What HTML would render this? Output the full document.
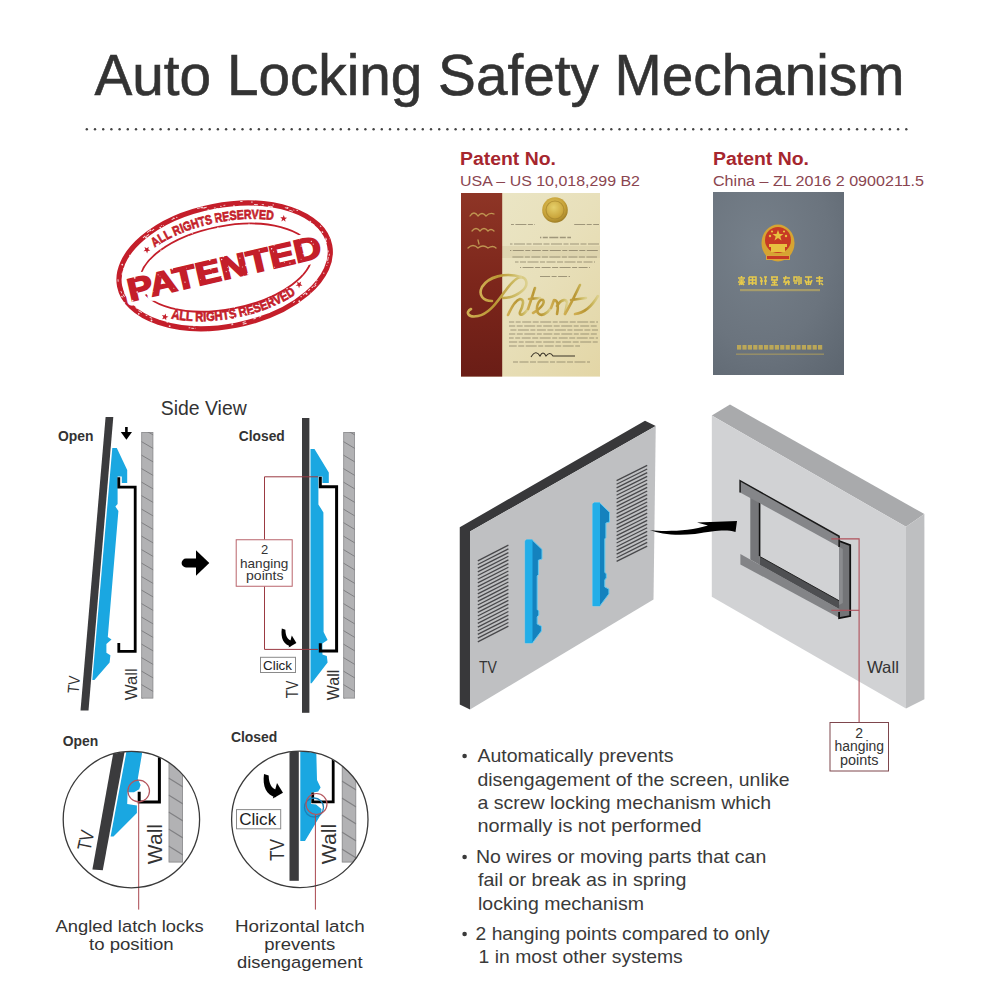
<!DOCTYPE html>
<html><head><meta charset="utf-8"><style>
html,body{margin:0;padding:0;background:#fff;}
svg{display:block;}
text{font-family:"Liberation Sans",sans-serif;}
</style></head><body>
<svg width="1000" height="1000" viewBox="0 0 1000 1000">
<defs>
  <pattern id="hatch" patternUnits="userSpaceOnUse" width="12" height="11" patternTransform="translate(0,0)">
    <path d="M-2,-1 L14,10" stroke="#7b7b7d" stroke-width="1.3"/>
  </pattern>
  <clipPath id="c1"><circle cx="131.4" cy="819.6" r="68"/></clipPath>
  <clipPath id="c2"><circle cx="299.8" cy="819.4" r="68"/></clipPath>
</defs>
<rect width="1000" height="1000" fill="#fff"/>

<!-- TITLE -->
<text x="94.5" y="94.5" font-size="58" fill="#333" stroke="#333" stroke-width="0.6" textLength="810" lengthAdjust="spacingAndGlyphs">Auto Locking Safety Mechanism</text>
<g id="dots" fill="#444"><circle cx="86.8" cy="129.3" r="1.2"/><circle cx="95.0" cy="129.3" r="1.2"/><circle cx="103.2" cy="129.3" r="1.2"/><circle cx="111.4" cy="129.3" r="1.2"/><circle cx="119.6" cy="129.3" r="1.2"/><circle cx="127.8" cy="129.3" r="1.2"/><circle cx="136.0" cy="129.3" r="1.2"/><circle cx="144.2" cy="129.3" r="1.2"/><circle cx="152.4" cy="129.3" r="1.2"/><circle cx="160.6" cy="129.3" r="1.2"/><circle cx="168.8" cy="129.3" r="1.2"/><circle cx="176.9" cy="129.3" r="1.2"/><circle cx="185.1" cy="129.3" r="1.2"/><circle cx="193.3" cy="129.3" r="1.2"/><circle cx="201.5" cy="129.3" r="1.2"/><circle cx="209.7" cy="129.3" r="1.2"/><circle cx="217.9" cy="129.3" r="1.2"/><circle cx="226.1" cy="129.3" r="1.2"/><circle cx="234.3" cy="129.3" r="1.2"/><circle cx="242.5" cy="129.3" r="1.2"/><circle cx="250.7" cy="129.3" r="1.2"/><circle cx="258.9" cy="129.3" r="1.2"/><circle cx="267.1" cy="129.3" r="1.2"/><circle cx="275.3" cy="129.3" r="1.2"/><circle cx="283.5" cy="129.3" r="1.2"/><circle cx="291.7" cy="129.3" r="1.2"/><circle cx="299.9" cy="129.3" r="1.2"/><circle cx="308.1" cy="129.3" r="1.2"/><circle cx="316.3" cy="129.3" r="1.2"/><circle cx="324.5" cy="129.3" r="1.2"/><circle cx="332.7" cy="129.3" r="1.2"/><circle cx="340.8" cy="129.3" r="1.2"/><circle cx="349.0" cy="129.3" r="1.2"/><circle cx="357.2" cy="129.3" r="1.2"/><circle cx="365.4" cy="129.3" r="1.2"/><circle cx="373.6" cy="129.3" r="1.2"/><circle cx="381.8" cy="129.3" r="1.2"/><circle cx="390.0" cy="129.3" r="1.2"/><circle cx="398.2" cy="129.3" r="1.2"/><circle cx="406.4" cy="129.3" r="1.2"/><circle cx="414.6" cy="129.3" r="1.2"/><circle cx="422.8" cy="129.3" r="1.2"/><circle cx="431.0" cy="129.3" r="1.2"/><circle cx="439.2" cy="129.3" r="1.2"/><circle cx="447.4" cy="129.3" r="1.2"/><circle cx="455.6" cy="129.3" r="1.2"/><circle cx="463.8" cy="129.3" r="1.2"/><circle cx="472.0" cy="129.3" r="1.2"/><circle cx="480.2" cy="129.3" r="1.2"/><circle cx="488.4" cy="129.3" r="1.2"/><circle cx="496.6" cy="129.3" r="1.2"/><circle cx="504.7" cy="129.3" r="1.2"/><circle cx="512.9" cy="129.3" r="1.2"/><circle cx="521.1" cy="129.3" r="1.2"/><circle cx="529.3" cy="129.3" r="1.2"/><circle cx="537.5" cy="129.3" r="1.2"/><circle cx="545.7" cy="129.3" r="1.2"/><circle cx="553.9" cy="129.3" r="1.2"/><circle cx="562.1" cy="129.3" r="1.2"/><circle cx="570.3" cy="129.3" r="1.2"/><circle cx="578.5" cy="129.3" r="1.2"/><circle cx="586.7" cy="129.3" r="1.2"/><circle cx="594.9" cy="129.3" r="1.2"/><circle cx="603.1" cy="129.3" r="1.2"/><circle cx="611.3" cy="129.3" r="1.2"/><circle cx="619.5" cy="129.3" r="1.2"/><circle cx="627.7" cy="129.3" r="1.2"/><circle cx="635.9" cy="129.3" r="1.2"/><circle cx="644.1" cy="129.3" r="1.2"/><circle cx="652.3" cy="129.3" r="1.2"/><circle cx="660.4" cy="129.3" r="1.2"/><circle cx="668.6" cy="129.3" r="1.2"/><circle cx="676.8" cy="129.3" r="1.2"/><circle cx="685.0" cy="129.3" r="1.2"/><circle cx="693.2" cy="129.3" r="1.2"/><circle cx="701.4" cy="129.3" r="1.2"/><circle cx="709.6" cy="129.3" r="1.2"/><circle cx="717.8" cy="129.3" r="1.2"/><circle cx="726.0" cy="129.3" r="1.2"/><circle cx="734.2" cy="129.3" r="1.2"/><circle cx="742.4" cy="129.3" r="1.2"/><circle cx="750.6" cy="129.3" r="1.2"/><circle cx="758.8" cy="129.3" r="1.2"/><circle cx="767.0" cy="129.3" r="1.2"/><circle cx="775.2" cy="129.3" r="1.2"/><circle cx="783.4" cy="129.3" r="1.2"/><circle cx="791.6" cy="129.3" r="1.2"/><circle cx="799.8" cy="129.3" r="1.2"/><circle cx="808.0" cy="129.3" r="1.2"/><circle cx="816.2" cy="129.3" r="1.2"/><circle cx="824.4" cy="129.3" r="1.2"/><circle cx="832.5" cy="129.3" r="1.2"/><circle cx="840.7" cy="129.3" r="1.2"/><circle cx="848.9" cy="129.3" r="1.2"/><circle cx="857.1" cy="129.3" r="1.2"/><circle cx="865.3" cy="129.3" r="1.2"/><circle cx="873.5" cy="129.3" r="1.2"/><circle cx="881.7" cy="129.3" r="1.2"/><circle cx="889.9" cy="129.3" r="1.2"/><circle cx="898.1" cy="129.3" r="1.2"/><circle cx="906.3" cy="129.3" r="1.2"/></g>

<!-- SECTIONS -->
<g id="stamp" transform="translate(226,267.6) rotate(-11)" fill="#c41e2a">
  <ellipse cx="-1" cy="-2" rx="107" ry="60.5" fill="none" stroke="#c41e2a" stroke-width="5.2"/>
  <path id="arcTop" d="M -96,0 A 96 46 0 0 1 96,0" fill="none"/>
  <path id="arcBot" d="M -100,0 A 100 51 0 0 0 100,0" fill="none"/>
  <ellipse cx="0" cy="0" rx="87" ry="41.5" fill="none" stroke="#c41e2a" stroke-width="1.8"/>
  <text font-size="13" font-weight="bold" stroke="#c41e2a" stroke-width="0.7"><textPath href="#arcTop" startOffset="47.5%" text-anchor="middle" textLength="124" lengthAdjust="spacingAndGlyphs">ALL RIGHTS RESERVED</textPath></text>
  <text font-size="13" font-weight="bold" stroke="#c41e2a" stroke-width="0.7"><textPath href="#arcBot" startOffset="50%" text-anchor="middle" textLength="130" lengthAdjust="spacingAndGlyphs">ALL RIGHTS RESERVED</textPath></text>
  <g transform="rotate(-2)">
  <text x="-2" y="11.5" font-size="32" font-weight="bold" text-anchor="middle" textLength="198" lengthAdjust="spacingAndGlyphs" fill="#fff" stroke="#fff" stroke-width="9" stroke-linejoin="round">PATENTED</text>
  <text x="-2" y="11.5" font-size="32" font-weight="bold" text-anchor="middle" textLength="198" lengthAdjust="spacingAndGlyphs" stroke="#c41e2a" stroke-width="1.6">PATENTED</text>
  </g>
  <g><polygon points="-76.1,-35.7 -74.1,-34.1 -71.9,-35.3 -72.8,-32.9 -71.0,-31.1 -73.5,-31.3 -74.7,-29.0 -75.3,-31.5 -77.8,-31.9 -75.7,-33.2"/><polygon points="66.8,-40.6 67.1,-38.0 69.5,-37.3 67.2,-36.3 67.2,-33.7 65.5,-35.7 63.1,-34.8 64.4,-37.0 62.9,-39.1 65.4,-38.5"/><polygon points="-67.9,33.5 -68.1,36.1 -65.8,37.2 -68.3,37.8 -68.7,40.3 -70.0,38.2 -72.5,38.5 -70.9,36.6 -72.0,34.3 -69.7,35.3"/><polygon points="67.0,27.3 68.8,29.1 71.1,28.1 70.0,30.4 71.6,32.3 69.1,32.0 67.8,34.1 67.4,31.6 64.9,31.0 67.2,29.9"/></g>
  <g fill="#fff" opacity="0.85"><circle cx="-19.5" cy="22.2" r="0.77"/><circle cx="73.6" cy="20.6" r="0.59"/><circle cx="74.5" cy="16.2" r="0.37"/><circle cx="-27.1" cy="6.8" r="0.41"/><circle cx="-90.6" cy="26.6" r="0.43"/><circle cx="14.8" cy="50.0" r="0.97"/><circle cx="-62.4" cy="-18.8" r="0.98"/><circle cx="99.4" cy="17.1" r="0.54"/><circle cx="23.7" cy="17.3" r="0.55"/><circle cx="19.2" cy="-24.9" r="0.73"/><circle cx="-43.9" cy="-29.9" r="0.71"/><circle cx="25.2" cy="6.0" r="0.48"/><circle cx="-31.0" cy="-37.9" r="0.55"/><circle cx="-64.8" cy="-22.1" r="0.54"/><circle cx="25.8" cy="-51.4" r="0.51"/><circle cx="-72.5" cy="-20.9" r="0.92"/><circle cx="-7.7" cy="-34.1" r="0.99"/><circle cx="53.4" cy="28.0" r="0.84"/><circle cx="45.2" cy="36.5" r="0.38"/><circle cx="-48.1" cy="-48.7" r="0.72"/><circle cx="44.5" cy="-25.3" r="0.80"/><circle cx="-70.7" cy="-27.2" r="0.65"/><circle cx="58.3" cy="-52.5" r="0.66"/><circle cx="-14.2" cy="-13.5" r="0.81"/><circle cx="-67.2" cy="-50.9" r="0.88"/><circle cx="-15.0" cy="38.8" r="0.78"/><circle cx="75.3" cy="6.1" r="0.46"/><circle cx="20.2" cy="10.4" r="0.85"/><circle cx="38.3" cy="23.1" r="0.60"/><circle cx="22.0" cy="-13.1" r="0.64"/><circle cx="-100.2" cy="-18.4" r="0.88"/><circle cx="38.8" cy="-25.5" r="0.62"/><circle cx="-66.5" cy="46.7" r="0.97"/><circle cx="27.4" cy="21.8" r="0.50"/><circle cx="8.2" cy="44.3" r="0.73"/><circle cx="-0.6" cy="4.1" r="0.62"/><circle cx="-57.4" cy="35.3" r="0.97"/><circle cx="-29.4" cy="-42.8" r="0.75"/><circle cx="-11.6" cy="-13.3" r="0.93"/><circle cx="19.6" cy="-58.8" r="0.87"/><circle cx="-55.2" cy="25.3" r="0.42"/><circle cx="-18.6" cy="-11.9" r="0.39"/><circle cx="11.6" cy="24.9" r="0.57"/><circle cx="1.6" cy="0.3" r="0.45"/><circle cx="54.3" cy="23.0" r="0.37"/><circle cx="61.8" cy="-35.6" r="0.45"/><circle cx="-0.9" cy="37.7" r="0.59"/><circle cx="74.0" cy="41.1" r="1.00"/><circle cx="-76.1" cy="9.4" r="0.41"/><circle cx="52.5" cy="22.4" r="0.52"/><circle cx="21.4" cy="-22.6" r="0.37"/><circle cx="77.6" cy="-14.1" r="0.45"/><circle cx="-17.7" cy="-2.8" r="0.69"/><circle cx="103.1" cy="-8.0" r="0.80"/><circle cx="-4.7" cy="38.7" r="0.46"/><circle cx="11.2" cy="-46.3" r="0.86"/><circle cx="-25.4" cy="26.5" r="0.88"/><circle cx="103.0" cy="-5.6" r="0.87"/><circle cx="40.1" cy="-50.1" r="0.50"/><circle cx="-66.4" cy="-4.2" r="0.37"/><circle cx="58.3" cy="5.9" r="0.52"/><circle cx="-38.7" cy="-58.6" r="0.64"/><circle cx="102.7" cy="-24.5" r="0.97"/><circle cx="-34.7" cy="22.6" r="0.50"/><circle cx="16.6" cy="27.3" r="0.76"/><circle cx="83.2" cy="-34.4" r="0.66"/><circle cx="-57.3" cy="-46.9" r="0.41"/><circle cx="-56.9" cy="-51.7" r="0.86"/><circle cx="0.1" cy="-44.2" r="0.47"/><circle cx="15.7" cy="-35.8" r="0.87"/><circle cx="69.4" cy="-7.1" r="0.61"/><circle cx="90.1" cy="-17.9" r="0.46"/><circle cx="30.4" cy="17.8" r="0.94"/><circle cx="14.9" cy="-22.9" r="0.89"/><circle cx="90.1" cy="-6.4" r="0.58"/><circle cx="-38.7" cy="-7.0" r="0.36"/><circle cx="88.8" cy="-9.4" r="0.69"/><circle cx="67.4" cy="-17.1" r="0.92"/><circle cx="23.7" cy="-26.1" r="0.51"/><circle cx="-14.6" cy="30.3" r="0.73"/><circle cx="-4.3" cy="41.4" r="0.44"/><circle cx="56.3" cy="-20.4" r="0.65"/><circle cx="-92.2" cy="-30.4" r="0.62"/><circle cx="69.0" cy="-22.4" r="0.70"/><circle cx="-15.2" cy="-1.3" r="0.64"/><circle cx="2.9" cy="3.7" r="0.87"/><circle cx="36.1" cy="38.9" r="0.82"/><circle cx="-60.0" cy="-12.7" r="0.69"/><circle cx="-93.2" cy="-19.3" r="0.42"/><circle cx="-51.9" cy="-11.8" r="0.53"/><circle cx="11.1" cy="-45.2" r="0.72"/><circle cx="6.7" cy="-61.0" r="0.64"/><circle cx="-60.5" cy="-29.6" r="0.68"/><circle cx="-26.5" cy="-40.3" r="0.70"/><circle cx="-107.6" cy="8.5" r="0.80"/><circle cx="77.6" cy="-43.5" r="0.52"/><circle cx="-101.3" cy="-22.7" r="0.90"/><circle cx="25.4" cy="16.9" r="0.64"/><circle cx="49.3" cy="13.8" r="0.40"/><circle cx="-48.1" cy="-49.6" r="0.93"/><circle cx="53.5" cy="44.7" r="0.78"/><circle cx="65.5" cy="47.0" r="0.98"/><circle cx="20.8" cy="61.3" r="0.61"/><circle cx="-111.1" cy="5.1" r="0.89"/><circle cx="38.8" cy="35.7" r="0.69"/><circle cx="-26.3" cy="24.0" r="0.56"/><circle cx="-2.7" cy="-8.8" r="0.71"/><circle cx="-14.0" cy="3.1" r="0.57"/><circle cx="-57.1" cy="-32.2" r="0.39"/><circle cx="99.0" cy="-5.3" r="0.98"/><circle cx="45.7" cy="20.2" r="0.38"/><circle cx="10.6" cy="-32.7" r="0.43"/><circle cx="-94.4" cy="28.7" r="0.88"/><circle cx="-2.3" cy="24.7" r="0.95"/><circle cx="-84.7" cy="-23.0" r="0.41"/><circle cx="86.9" cy="18.8" r="0.63"/><circle cx="97.5" cy="27.2" r="0.76"/><circle cx="10.3" cy="-17.6" r="0.91"/><circle cx="95.0" cy="24.2" r="0.64"/><circle cx="-44.3" cy="40.3" r="0.95"/><circle cx="-4.5" cy="22.9" r="0.69"/><circle cx="2.7" cy="21.1" r="0.45"/><circle cx="47.8" cy="8.9" r="0.55"/><circle cx="-33.1" cy="52.5" r="0.54"/><circle cx="-47.2" cy="-0.0" r="0.58"/><circle cx="55.7" cy="3.6" r="0.36"/><circle cx="-8.8" cy="-47.2" r="0.47"/><circle cx="-106.9" cy="9.8" r="0.42"/><circle cx="30.9" cy="-38.2" r="0.67"/><circle cx="35.6" cy="-34.6" r="0.68"/><circle cx="-42.3" cy="-58.6" r="0.57"/><circle cx="46.5" cy="-46.8" r="0.76"/><circle cx="-54.5" cy="21.3" r="0.39"/><circle cx="20.4" cy="12.4" r="0.83"/><circle cx="-1.6" cy="25.8" r="0.40"/><circle cx="56.7" cy="-50.2" r="0.79"/><circle cx="-11.0" cy="30.9" r="0.54"/><circle cx="-43.0" cy="6.4" r="0.64"/><circle cx="-9.1" cy="62.5" r="0.98"/><circle cx="-53.0" cy="-9.2" r="0.98"/><circle cx="-24.4" cy="35.6" r="0.35"/><circle cx="-56.8" cy="29.9" r="0.68"/><circle cx="24.1" cy="43.3" r="0.35"/><circle cx="-3.0" cy="19.1" r="0.61"/><circle cx="16.2" cy="2.5" r="0.55"/><circle cx="9.2" cy="48.7" r="0.69"/><circle cx="0.3" cy="-51.9" r="0.82"/><circle cx="50.7" cy="-27.5" r="0.56"/><circle cx="43.1" cy="-2.4" r="0.82"/><circle cx="-14.6" cy="-10.5" r="0.89"/><circle cx="69.0" cy="-31.8" r="0.83"/><circle cx="15.9" cy="-22.1" r="0.69"/><circle cx="-102.3" cy="-1.6" r="0.87"/><circle cx="39.5" cy="-43.4" r="0.93"/><circle cx="-38.2" cy="-48.6" r="0.50"/><circle cx="40.1" cy="4.5" r="0.58"/><circle cx="80.9" cy="35.8" r="0.71"/><circle cx="-61.6" cy="-36.4" r="0.79"/><circle cx="-6.4" cy="0.2" r="0.87"/><circle cx="-0.9" cy="-45.4" r="0.70"/><circle cx="-15.5" cy="-13.8" r="0.83"/><circle cx="-0.4" cy="17.5" r="0.52"/><circle cx="-6.6" cy="-28.7" r="0.83"/><circle cx="77.8" cy="-6.8" r="0.60"/><circle cx="-91.8" cy="7.0" r="0.85"/><circle cx="-66.6" cy="-34.4" r="0.40"/><circle cx="33.9" cy="25.8" r="0.83"/><circle cx="-28.3" cy="45.4" r="0.36"/><circle cx="53.9" cy="12.3" r="0.79"/><circle cx="-32.7" cy="-49.2" r="0.54"/><circle cx="-75.9" cy="-4.5" r="0.65"/><circle cx="77.9" cy="41.0" r="0.48"/><circle cx="107.3" cy="-8.5" r="0.36"/><circle cx="-98.1" cy="14.8" r="0.98"/><circle cx="-55.1" cy="10.4" r="0.49"/><circle cx="48.4" cy="-9.8" r="0.73"/><circle cx="51.0" cy="36.0" r="0.97"/><circle cx="68.2" cy="42.9" r="0.68"/><circle cx="71.2" cy="-35.0" r="0.50"/><circle cx="62.5" cy="-26.7" r="0.37"/><circle cx="78.5" cy="1.0" r="0.64"/><circle cx="-13.5" cy="22.7" r="0.57"/><circle cx="-41.4" cy="53.7" r="0.35"/><circle cx="0.5" cy="-58.6" r="0.43"/><circle cx="84.6" cy="-24.1" r="0.94"/><circle cx="-16.9" cy="37.8" r="0.61"/><circle cx="86.0" cy="-0.4" r="0.58"/><circle cx="-52.8" cy="14.7" r="0.38"/><circle cx="82.1" cy="34.9" r="0.54"/><circle cx="51.4" cy="-12.6" r="0.52"/><circle cx="-48.7" cy="-1.9" r="0.59"/><circle cx="101.4" cy="-16.4" r="0.88"/><circle cx="-72.8" cy="-44.8" r="0.96"/><circle cx="-90.5" cy="-16.5" r="0.38"/><circle cx="-8.3" cy="-42.7" r="0.84"/><circle cx="-36.9" cy="-27.0" r="0.38"/><circle cx="35.8" cy="-10.1" r="0.66"/><circle cx="-33.9" cy="29.0" r="0.83"/><circle cx="56.5" cy="-4.8" r="0.78"/><circle cx="-26.3" cy="45.4" r="0.61"/><circle cx="22.4" cy="22.3" r="0.49"/><circle cx="65.6" cy="-25.1" r="0.49"/><circle cx="93.0" cy="-35.5" r="0.64"/><circle cx="31.4" cy="21.6" r="0.41"/><circle cx="-18.5" cy="16.2" r="0.51"/><circle cx="-4.4" cy="48.2" r="0.93"/><circle cx="-0.2" cy="-41.1" r="0.62"/><circle cx="-68.0" cy="-5.9" r="0.57"/><circle cx="54.6" cy="12.8" r="0.98"/><circle cx="55.9" cy="32.3" r="0.76"/><circle cx="33.9" cy="-22.6" r="0.53"/><circle cx="0.7" cy="40.5" r="0.64"/><circle cx="98.9" cy="-16.8" r="0.92"/><circle cx="19.9" cy="1.6" r="0.81"/><circle cx="61.1" cy="-26.8" r="0.73"/><circle cx="70.1" cy="0.0" r="0.95"/><circle cx="47.4" cy="-52.6" r="0.98"/><circle cx="0.4" cy="21.1" r="0.45"/><circle cx="-91.6" cy="-7.4" r="0.96"/><circle cx="-15.9" cy="-50.7" r="0.85"/><circle cx="-80.2" cy="12.6" r="0.38"/><circle cx="10.9" cy="-30.2" r="0.95"/><circle cx="-37.7" cy="-27.9" r="0.43"/><circle cx="-1.0" cy="51.0" r="0.80"/><circle cx="22.6" cy="11.0" r="0.69"/><circle cx="-60.5" cy="-19.8" r="0.50"/><circle cx="-9.2" cy="-3.9" r="0.55"/><circle cx="-106.3" cy="15.3" r="0.77"/><circle cx="57.5" cy="-29.4" r="0.50"/><circle cx="2.0" cy="62.7" r="0.81"/><circle cx="-5.8" cy="8.8" r="0.67"/><circle cx="-33.2" cy="-36.9" r="0.52"/><circle cx="-53.5" cy="-53.4" r="0.50"/><circle cx="63.6" cy="7.9" r="0.62"/><circle cx="-20.5" cy="-26.0" r="0.87"/><circle cx="-5.4" cy="-45.4" r="0.48"/><circle cx="61.4" cy="-6.7" r="0.88"/><circle cx="6.3" cy="29.9" r="0.84"/><circle cx="-30.4" cy="60.0" r="0.67"/><circle cx="20.3" cy="27.9" r="0.62"/><circle cx="-55.4" cy="-53.7" r="0.45"/><circle cx="-40.5" cy="18.3" r="0.98"/><circle cx="16.0" cy="11.3" r="0.39"/><circle cx="-83.2" cy="37.7" r="0.92"/><circle cx="-12.1" cy="-63.5" r="0.96"/><circle cx="-23.0" cy="24.2" r="0.96"/><circle cx="-0.5" cy="-11.4" r="0.78"/><circle cx="-49.5" cy="27.0" r="0.57"/><circle cx="2.9" cy="3.0" r="0.53"/><circle cx="-65.2" cy="50.3" r="0.43"/><circle cx="49.7" cy="-6.5" r="0.58"/><circle cx="44.1" cy="-52.3" r="0.63"/><circle cx="73.4" cy="13.4" r="0.59"/><circle cx="43.0" cy="-13.6" r="0.59"/><circle cx="15.5" cy="-6.7" r="0.62"/><circle cx="37.1" cy="-51.9" r="0.38"/><circle cx="27.3" cy="3.5" r="0.95"/><circle cx="-4.3" cy="55.3" r="0.93"/><circle cx="-31.0" cy="28.3" r="0.97"/><circle cx="-42.5" cy="-22.0" r="0.82"/><rect x="-45.1" y="49.4" width="3.4" height="0.9" transform="rotate(-166 -45.1 49.4)"/><rect x="91.4" y="-30.1" width="1.6" height="0.9" transform="rotate(44 91.4 -30.1)"/><rect x="9.6" y="59.0" width="3.9" height="0.9" transform="rotate(177 9.6 59.0)"/><rect x="-82.4" y="36.1" width="2.7" height="0.9" transform="rotate(-147 -82.4 36.1)"/><rect x="92.8" y="-27.0" width="3.3" height="0.9" transform="rotate(49 92.8 -27.0)"/><rect x="47.2" y="-55.4" width="2.3" height="0.9" transform="rotate(15 47.2 -55.4)"/><rect x="-46.6" y="52.8" width="1.7" height="0.9" transform="rotate(-165 -46.6 52.8)"/><rect x="34.7" y="52.5" width="1.7" height="0.9" transform="rotate(169 34.7 52.5)"/><rect x="102.9" y="9.2" width="4.0" height="0.9" transform="rotate(111 102.9 9.2)"/><rect x="80.3" y="-43.4" width="1.7" height="0.9" transform="rotate(32 80.3 -43.4)"/><rect x="86.1" y="32.4" width="2.6" height="0.9" transform="rotate(141 86.1 32.4)"/><rect x="9.1" y="57.3" width="3.2" height="0.9" transform="rotate(177 9.1 57.3)"/><rect x="-0.6" y="-61.2" width="1.8" height="0.9" transform="rotate(-0 -0.6 -61.2)"/><rect x="55.3" y="-52.2" width="2.4" height="0.9" transform="rotate(20 55.3 -52.2)"/><rect x="-10.4" y="-63.1" width="2.1" height="0.9" transform="rotate(-2 -10.4 -63.1)"/><rect x="61.4" y="46.7" width="2.3" height="0.9" transform="rotate(159 61.4 46.7)"/><rect x="-82.7" y="33.7" width="2.1" height="0.9" transform="rotate(-144 -82.7 33.7)"/><rect x="37.8" y="-55.6" width="1.8" height="0.9" transform="rotate(12 37.8 -55.6)"/><rect x="-104.1" y="8.6" width="3.8" height="0.9" transform="rotate(-106 -104.1 8.6)"/><rect x="100.6" y="10.5" width="2.0" height="0.9" transform="rotate(115 100.6 10.5)"/><rect x="103.9" y="-10.4" width="2.4" height="0.9" transform="rotate(73 103.9 -10.4)"/><rect x="69.4" y="-48.1" width="3.4" height="0.9" transform="rotate(27 69.4 -48.1)"/><rect x="96.9" y="-21.9" width="3.0" height="0.9" transform="rotate(58 96.9 -21.9)"/><rect x="19.7" y="54.0" width="2.0" height="0.9" transform="rotate(173 19.7 54.0)"/><rect x="-3.8" y="57.7" width="2.0" height="0.9" transform="rotate(-179 -3.8 57.7)"/><rect x="103.9" y="2.6" width="2.0" height="0.9" transform="rotate(97 103.9 2.6)"/><rect x="-42.9" y="54.0" width="2.9" height="0.9" transform="rotate(-167 -42.9 54.0)"/><rect x="94.7" y="20.0" width="2.9" height="0.9" transform="rotate(127 94.7 20.0)"/><rect x="-71.0" y="-49.8" width="3.2" height="0.9" transform="rotate(-25 -71.0 -49.8)"/><rect x="-91.5" y="28.5" width="3.9" height="0.9" transform="rotate(-139 -91.5 28.5)"/><rect x="-41.1" y="51.8" width="2.5" height="0.9" transform="rotate(-167 -41.1 51.8)"/><rect x="71.2" y="-48.0" width="2.0" height="0.9" transform="rotate(26 71.2 -48.0)"/><rect x="-17.1" y="-63.9" width="3.8" height="0.9" transform="rotate(-4 -17.1 -63.9)"/><rect x="-93.5" y="24.5" width="3.7" height="0.9" transform="rotate(-133 -93.5 24.5)"/><rect x="-105.5" y="9.5" width="2.9" height="0.9" transform="rotate(-114 -105.5 9.5)"/><rect x="-66.2" y="-50.6" width="3.1" height="0.9" transform="rotate(-25 -66.2 -50.6)"/><rect x="-73.9" y="38.9" width="2.2" height="0.9" transform="rotate(-152 -73.9 38.9)"/><rect x="-103.9" y="-12.3" width="2.7" height="0.9" transform="rotate(-77 -103.9 -12.3)"/><rect x="37.1" y="-60.0" width="1.8" height="0.9" transform="rotate(11 37.1 -60.0)"/><rect x="100.7" y="-23.4" width="1.6" height="0.9" transform="rotate(56 100.7 -23.4)"/><rect x="93.2" y="-27.1" width="3.1" height="0.9" transform="rotate(48 93.2 -27.1)"/><rect x="45.2" y="-54.2" width="2.1" height="0.9" transform="rotate(16 45.2 -54.2)"/><rect x="-86.7" y="32.7" width="2.0" height="0.9" transform="rotate(-141 -86.7 32.7)"/><rect x="19.6" y="55.9" width="2.5" height="0.9" transform="rotate(174 19.6 55.9)"/><rect x="73.6" y="40.2" width="3.7" height="0.9" transform="rotate(150 73.6 40.2)"/><rect x="101.8" y="14.0" width="1.6" height="0.9" transform="rotate(115 101.8 14.0)"/><rect x="52.9" y="-52.6" width="2.9" height="0.9" transform="rotate(19 52.9 -52.6)"/><rect x="-76.0" y="-45.5" width="3.0" height="0.9" transform="rotate(-29 -76.0 -45.5)"/><rect x="-94.9" y="24.0" width="2.6" height="0.9" transform="rotate(-132 -94.9 24.0)"/><rect x="104.5" y="6.2" width="2.1" height="0.9" transform="rotate(105 104.5 6.2)"/><rect x="9.4" y="-62.0" width="1.9" height="0.9" transform="rotate(3 9.4 -62.0)"/><rect x="-107.5" y="5.6" width="2.6" height="0.9" transform="rotate(-107 -107.5 5.6)"/><rect x="87.6" y="30.0" width="1.6" height="0.9" transform="rotate(139 87.6 30.0)"/><rect x="-72.5" y="-46.3" width="3.4" height="0.9" transform="rotate(-26 -72.5 -46.3)"/><rect x="-109.0" y="-6.8" width="2.4" height="0.9" transform="rotate(-83 -109.0 -6.8)"/><rect x="98.2" y="-18.8" width="4.0" height="0.9" transform="rotate(60 98.2 -18.8)"/><rect x="-11.3" y="-63.2" width="4.0" height="0.9" transform="rotate(-4 -11.3 -63.2)"/><rect x="-104.6" y="2.6" width="1.9" height="0.9" transform="rotate(-95 -104.6 2.6)"/><rect x="26.5" y="-62.5" width="2.4" height="0.9" transform="rotate(8 26.5 -62.5)"/><rect x="1.4" y="-60.0" width="2.2" height="0.9" transform="rotate(1 1.4 -60.0)"/><rect x="39.7" y="-57.0" width="3.8" height="0.9" transform="rotate(14 39.7 -57.0)"/><rect x="25.3" y="55.0" width="2.3" height="0.9" transform="rotate(171 25.3 55.0)"/><rect x="100.6" y="9.5" width="3.8" height="0.9" transform="rotate(113 100.6 9.5)"/><rect x="-44.3" y="-57.9" width="3.5" height="0.9" transform="rotate(-15 -44.3 -57.9)"/><rect x="78.6" y="37.6" width="2.4" height="0.9" transform="rotate(148 78.6 37.6)"/><rect x="73.3" y="-44.7" width="3.7" height="0.9" transform="rotate(29 73.3 -44.7)"/><rect x="85.4" y="34.5" width="2.5" height="0.9" transform="rotate(144 85.4 34.5)"/><rect x="29.1" y="-56.9" width="2.9" height="0.9" transform="rotate(10 29.1 -56.9)"/><rect x="-67.4" y="43.0" width="1.9" height="0.9" transform="rotate(-155 -67.4 43.0)"/><rect x="-7.5" y="-60.4" width="2.1" height="0.9" transform="rotate(-1 -7.5 -60.4)"/></g>

</g>

<g id="patents">
  <text x="460" y="165" font-size="18" font-weight="bold" fill="#a6262e" textLength="96" lengthAdjust="spacingAndGlyphs">Patent No.</text>
  <text x="460" y="185.6" font-size="15.4" fill="#8a4550" textLength="180" lengthAdjust="spacingAndGlyphs">USA – US 10,018,299 B2</text>
  <text x="713" y="165" font-size="18" font-weight="bold" fill="#a6262e" textLength="96" lengthAdjust="spacingAndGlyphs">Patent No.</text>
  <text x="713" y="185.6" font-size="15.4" fill="#8a4550" textLength="211" lengthAdjust="spacingAndGlyphs">China – ZL 2016 2 0900211.5</text>
</g>
<g id="usimg">
  <defs>
    <linearGradient id="usPaper" x1="0" y1="0" x2="1" y2="1">
      <stop offset="0" stop-color="#ebe7c8"/>
      <stop offset="0.5" stop-color="#e8e0bb"/>
      <stop offset="1" stop-color="#e3d6a6"/>
    </linearGradient>
    <linearGradient id="usStripe" x1="0" y1="0" x2="0" y2="1">
      <stop offset="0" stop-color="#8e3526"/>
      <stop offset="0.5" stop-color="#7c261b"/>
      <stop offset="1" stop-color="#6a1d16"/>
    </linearGradient>
    <linearGradient id="gold" x1="0" y1="0" x2="1" y2="1">
      <stop offset="0" stop-color="#d8bb55"/>
      <stop offset="0.6" stop-color="#c4a23c"/>
      <stop offset="1" stop-color="#9c8238"/>
    </linearGradient>
    <radialGradient id="seal" cx="0.45" cy="0.4" r="0.6">
      <stop offset="0" stop-color="#e5cf6a"/>
      <stop offset="0.7" stop-color="#c9a43a"/>
      <stop offset="1" stop-color="#9e7d25"/>
    </radialGradient>
  </defs>
  <rect x="461" y="193" width="139" height="183.6" fill="url(#usPaper)"/>
  <rect x="502" y="246" width="98" height="12" fill="#d9cfa8" opacity="0.6"/>
  <rect x="461" y="193" width="41.2" height="183.6" fill="url(#usStripe)"/>
  <circle cx="555" cy="210" r="12.8" fill="url(#seal)"/>
  <circle cx="555" cy="210" r="9" fill="none" stroke="#a5852c" stroke-width="1.2" opacity="0.7"/>
  <g fill="none" stroke="#c9a85a" stroke-width="1.3" stroke-linecap="round" opacity="0.85">
    <path d="M470,216 q4,-6 8,0 q4,-5 8,0 q4,-4 8,-2"/>
    <path d="M472,231 q4,-5 8,0 q4,-5 8,0 q3,-3 6,0"/>
    <path d="M478,240 l1,4"/>
    <path d="M468,248 q5,-5 10,0 q5,-4 10,0 q5,-3 8,0"/>
  </g>
  <g stroke="#6f6650" stroke-width="1.1" opacity="0.6" stroke-dasharray="9 1.5 6 1.5 11 1.5 5 1.5">
    <line x1="511" y1="224.5" x2="535" y2="224.5" stroke-dashoffset="13.6"/>
    <line x1="573" y1="224.5" x2="599" y2="224.5" stroke-dashoffset="16.8"/>
    <line x1="540" y1="237.5" x2="571" y2="237.5" stroke-width="1.4" stroke-dashoffset="27.7"/>
    <line x1="510" y1="244" x2="599" y2="244" stroke-dashoffset="14.0"/>
    <line x1="510" y1="250.5" x2="599" y2="250.5" stroke-dashoffset="15.2"/>
    <line x1="512" y1="257" x2="597" y2="257" stroke-dashoffset="17.6"/>
    <line x1="515" y1="262" x2="595" y2="262" stroke-dashoffset="5.5"/>
    <line x1="520" y1="267.5" x2="590" y2="267.5" stroke-dashoffset="15.4"/>
    <line x1="540" y1="276.5" x2="570" y2="276.5" stroke-dashoffset="18.9"/>
    <line x1="509" y1="322" x2="598" y2="322" stroke-dashoffset="23.8"/>
    <line x1="509" y1="326" x2="598" y2="326" stroke-dashoffset="2.8"/>
    <line x1="509" y1="330" x2="598" y2="330" stroke-dashoffset="9.1"/>
    <line x1="509" y1="334" x2="598" y2="334" stroke-dashoffset="2.7"/>
    <line x1="509" y1="338" x2="598" y2="338" stroke-dashoffset="24.3"/>
    <line x1="509" y1="342" x2="598" y2="342" stroke-dashoffset="20.8"/>
    <line x1="509" y1="346" x2="580" y2="346" stroke-dashoffset="1.3"/>
    <line x1="512" y1="362" x2="590" y2="362" stroke-dashoffset="29.5"/>
  </g>
  <path d="M531,357 q5,-8 9,-1 q3,-6 6,0 q4,-5 7,0 l22,0" fill="none" stroke="#3a3428" stroke-width="1.1"/>
  <defs><linearGradient id="goldH" x1="0" y1="0" x2="1" y2="0"><stop offset="0" stop-color="#cfae52"/><stop offset="0.45" stop-color="#b99633"/><stop offset="0.75" stop-color="#c9b55a"/><stop offset="1" stop-color="#dcd08e"/></linearGradient></defs>
  <g fill="none" stroke="url(#goldH)" stroke-width="2.6" stroke-linecap="round" stroke-linejoin="round">
    <path d="M471,309 C465,312 468,318 478,316 C490,314 498,300 506,290 C512,282 517,277 521,277 C527,278 529,285 522,291 C516,296 509,298 503,298"/>
    <path d="M521,277 C505,272 488,277 482,287 C478,295 483,301 492,301"/>
    <path d="M508,315 C512,306 516,300 520,299 C525,299 523,306 520,312 C519,316 523,316 528,309"/>
    <path d="M528,309 L535,288 M529,299 L540,298"/>
    <path d="M533,313 C539,310 546,303 543,300 C539,298 535,308 538,313 C541,317 547,314 551,308"/>
    <path d="M551,308 L554,300 C557,300 559,304 557,314 M557,306 C561,299 568,298 567,304 L565,314"/>
    <path d="M565,314 C570,306 577,291 580,285 M571,300 L586,298"/>
    <path d="M575,314 C585,313 592,306 598,296"/>
  </g>
</g>

<g id="cnimg">
  <defs>
    <radialGradient id="cnBg" cx="0.35" cy="0.3" r="0.9">
      <stop offset="0" stop-color="#76808a"/>
      <stop offset="0.6" stop-color="#6b747e"/>
      <stop offset="1" stop-color="#5e6771"/>
    </radialGradient>
  </defs>
  <rect x="713" y="192" width="131" height="183" fill="url(#cnBg)"/>
  <ellipse cx="778" cy="243" rx="16.5" ry="18.5" fill="#d6a432"/>
  <circle cx="778" cy="240" r="13" fill="#c73a24"/>
  <g fill="#e8c040">
    <polygon points="778,230 779.5,234 783.5,234 780.3,236.5 781.5,240.5 778,238 774.5,240.5 775.7,236.5 772.5,234 776.5,234"/>
    <circle cx="770" cy="236" r="1.2"/><circle cx="786" cy="236" r="1.2"/>
    <circle cx="772" cy="231.5" r="1.1"/><circle cx="784" cy="231.5" r="1.1"/>
    <rect x="769" y="244" width="18" height="3"/>
    <rect x="771" y="247" width="14" height="5"/>
    <rect x="766" y="255" width="24" height="5" fill="#d9a63a"/>
  </g>
  <rect x="767" y="256" width="22" height="3" fill="#c73a24"/>
<g fill="none" stroke="#e6c94c" stroke-width="1.5"><path transform="translate(737,276)" d="M1,2 H8 M4.5,0 V2 M2,4 H7 M1,6 H8 M4.5,4 V9 M2,9 L4.5,6 L7,9"/><path transform="translate(748,276)" d="M1,1 H8 V9 M1,1 V9 M1,4 H8 M1,7 H8 M4.5,1 V9"/><path transform="translate(759,276)" d="M1,1 L3,3 M1,5 H4 M2.5,3 V9 M5,1 H8 M6.5,1 V9 M5,5 H8"/><path transform="translate(770,276)" d="M1,1 H8 M1,4 H8 M2,1 V4 M7,1 V4 M4.5,4 V9 M1,9 H8 M2,6.5 H7"/><path transform="translate(782,276)" d="M1,2 H8 M4,0 L2,6 H8 M5,6 L3,9 M6,4 L7,9"/><path transform="translate(793,276)" d="M1,1 H4 V5 H1 Z M1,7 H4 M6,0 V9 M8,1 V8"/><path transform="translate(804,276)" d="M1,1 H8 M4.5,1 V9 M1,4 L3,9 M8,4 L6,9 M2,6 H7"/><path transform="translate(815,276)" d="M1,2 H8 M1,5 H8 M4.5,0 V9 M6,7 L8,9"/></g>
  <rect x="740" y="289" width="80" height="2.2" fill="#c9b35a" opacity="0.6"/>
  <g fill="#d0b550" opacity="0.8"><rect x="737.0" y="345" width="4.2" height="4.6"/><rect x="742.4" y="345" width="4.2" height="4.6"/><rect x="747.8" y="345" width="4.2" height="4.6"/><rect x="753.2" y="345" width="4.2" height="4.6"/><rect x="758.6" y="345" width="4.2" height="4.6"/><rect x="764.0" y="345" width="4.2" height="4.6"/><rect x="769.4" y="345" width="4.2" height="4.6"/><rect x="774.8" y="345" width="4.2" height="4.6"/><rect x="780.2" y="345" width="4.2" height="4.6"/><rect x="785.6" y="345" width="4.2" height="4.6"/><rect x="791.0" y="345" width="4.2" height="4.6"/><rect x="796.4" y="345" width="4.2" height="4.6"/><rect x="801.8" y="345" width="4.2" height="4.6"/><rect x="807.2" y="345" width="4.2" height="4.6"/><rect x="812.6" y="345" width="4.2" height="4.6"/><rect x="818.0" y="345" width="4.2" height="4.6"/></g>
  <rect x="736" y="353.5" width="88" height="1.4" fill="#c2ab55" opacity="0.55"/>
</g>

<g id="side">
  <text x="160.75" y="414.5" font-size="20" fill="#333" textLength="86" lengthAdjust="spacingAndGlyphs">Side View</text>
  <text x="58" y="440.75" font-size="15" font-weight="bold" fill="#333" textLength="35.5" lengthAdjust="spacingAndGlyphs">Open</text>
  <text x="238.8" y="440.75" font-size="15" font-weight="bold" fill="#333" textLength="46" lengthAdjust="spacingAndGlyphs">Closed</text>
  <!-- OPEN -->
  <svg x="141.3" y="432" width="12" height="266.5" viewBox="141.3 432 12 266.5" overflow="hidden"><rect x="141.3" y="432" width="12" height="266.5" fill="#b2b2b4" stroke="#8e8e90" stroke-width="1.6"/><g stroke="#808083" stroke-width="1.0"><line x1="141.3" y1="428.0" x2="153.3" y2="435.0"/><line x1="141.3" y1="441.5" x2="153.3" y2="448.5"/><line x1="141.3" y1="455.0" x2="153.3" y2="462.0"/><line x1="141.3" y1="468.5" x2="153.3" y2="475.5"/><line x1="141.3" y1="482.0" x2="153.3" y2="489.0"/><line x1="141.3" y1="495.5" x2="153.3" y2="502.5"/><line x1="141.3" y1="509.0" x2="153.3" y2="516.0"/><line x1="141.3" y1="522.5" x2="153.3" y2="529.5"/><line x1="141.3" y1="536.0" x2="153.3" y2="543.0"/><line x1="141.3" y1="549.5" x2="153.3" y2="556.5"/><line x1="141.3" y1="563.0" x2="153.3" y2="570.0"/><line x1="141.3" y1="576.5" x2="153.3" y2="583.5"/><line x1="141.3" y1="590.0" x2="153.3" y2="597.0"/><line x1="141.3" y1="603.5" x2="153.3" y2="610.5"/><line x1="141.3" y1="617.0" x2="153.3" y2="624.0"/><line x1="141.3" y1="630.5" x2="153.3" y2="637.5"/><line x1="141.3" y1="644.0" x2="153.3" y2="651.0"/><line x1="141.3" y1="657.5" x2="153.3" y2="664.5"/><line x1="141.3" y1="671.0" x2="153.3" y2="678.0"/><line x1="141.3" y1="684.5" x2="153.3" y2="691.5"/><line x1="141.3" y1="698.0" x2="153.3" y2="705.0"/></g></svg>
  <polygon points="105.6,417 113.3,417 88.5,710.4 80.5,710.4" fill="#3b3b3d"/>
  <polygon points="112.3,448 116.8,448 127.2,470 127.2,483 121.8,483 121.8,476.5 117.6,476.5 117.6,504 115.4,506.5 118.4,511 107.8,637 111.5,639.5 106.4,644 106.4,652.8 110.4,655.2 109.6,662.4 94.4,680 92.3,680" fill="#1aa7e1"/>
  <path d="M118.8,477.2 V487.2 H135.2 V651.4 H118.8 V643" fill="none" stroke="#000" stroke-width="2.8"/>
  <rect x="125.1" y="427" width="2.6" height="6" fill="#000"/>
  <polygon points="120.8,432 132,432 126.4,439.8" fill="#000"/>
  <text transform="translate(78.6,693.8) rotate(-85)" font-size="16" fill="#333" textLength="17.5" lengthAdjust="spacingAndGlyphs">TV</text>
  <text transform="translate(136.6,700.2) rotate(-90)" font-size="17" fill="#333" textLength="32" lengthAdjust="spacingAndGlyphs">Wall</text>
  <!-- arrow -->
  <path d="M186,558.6 H196 V550.3 L209.3,563 L196,575.8 V567.4 H186 A4.4,4.4 0 0 1 186,558.6 Z" fill="#000"/>
  <!-- CLOSED -->
  <svg x="343.3" y="432" width="11.6" height="266.5" viewBox="343.3 432 11.6 266.5" overflow="hidden"><rect x="343.3" y="432" width="11.6" height="266.5" fill="#b2b2b4" stroke="#8e8e90" stroke-width="1.6"/><g stroke="#808083" stroke-width="1.0"><line x1="343.3" y1="428.0" x2="354.90000000000003" y2="435.0"/><line x1="343.3" y1="441.5" x2="354.90000000000003" y2="448.5"/><line x1="343.3" y1="455.0" x2="354.90000000000003" y2="462.0"/><line x1="343.3" y1="468.5" x2="354.90000000000003" y2="475.5"/><line x1="343.3" y1="482.0" x2="354.90000000000003" y2="489.0"/><line x1="343.3" y1="495.5" x2="354.90000000000003" y2="502.5"/><line x1="343.3" y1="509.0" x2="354.90000000000003" y2="516.0"/><line x1="343.3" y1="522.5" x2="354.90000000000003" y2="529.5"/><line x1="343.3" y1="536.0" x2="354.90000000000003" y2="543.0"/><line x1="343.3" y1="549.5" x2="354.90000000000003" y2="556.5"/><line x1="343.3" y1="563.0" x2="354.90000000000003" y2="570.0"/><line x1="343.3" y1="576.5" x2="354.90000000000003" y2="583.5"/><line x1="343.3" y1="590.0" x2="354.90000000000003" y2="597.0"/><line x1="343.3" y1="603.5" x2="354.90000000000003" y2="610.5"/><line x1="343.3" y1="617.0" x2="354.90000000000003" y2="624.0"/><line x1="343.3" y1="630.5" x2="354.90000000000003" y2="637.5"/><line x1="343.3" y1="644.0" x2="354.90000000000003" y2="651.0"/><line x1="343.3" y1="657.5" x2="354.90000000000003" y2="664.5"/><line x1="343.3" y1="671.0" x2="354.90000000000003" y2="678.0"/><line x1="343.3" y1="684.5" x2="354.90000000000003" y2="691.5"/><line x1="343.3" y1="698.0" x2="354.90000000000003" y2="705.0"/></g></svg>
  <rect x="302" y="418" width="7.4" height="294.8" fill="#3b3b3d"/>
  <polygon points="310.5,449 314.5,449 328.8,472.4 328.8,483 322.4,483 322.4,476.5 318.4,476.5 318.4,504.4 323.4,512.4 323.6,632 327.6,640 322.4,643.5 322.4,654.4 326.8,656 327.6,662.4 311.6,683.2 310.5,683.2" fill="#1aa7e1"/>
  <path d="M320.3,476.8 V486.8 H336.6 V651 H320.3 V643.3" fill="none" stroke="#000" stroke-width="3"/>
  <g fill="none" stroke="#9b3a42" stroke-width="1">
    <path d="M264.5,539.75 V476.8 H318"/>
    <path d="M264.5,586.25 V649.4 H318"/>
  </g>
  <rect x="236.2" y="539.75" width="56" height="46.5" fill="#fff" stroke="#b9646c" stroke-width="1"/>
  <g fill="#333" font-size="13">
    <text x="264.5" y="554" text-anchor="middle">2</text>
    <text x="240" y="567.5" textLength="48.3" lengthAdjust="spacingAndGlyphs">hanging</text>
    <text x="246" y="579.5" textLength="37.5" lengthAdjust="spacingAndGlyphs">points</text>
  </g>
  <rect x="260.5" y="657.3" width="35" height="15.2" fill="#fff" stroke="#8a8a8a" stroke-width="1"/>
  <text x="263" y="669.5" font-size="13.6" fill="#222" textLength="29" lengthAdjust="spacingAndGlyphs">Click</text>
  <path d="M281.8,628.6 C280.5,638 283.5,645 291,646.5 L291.8,640.8 C287.5,640 285.6,636 285.4,629.8 Z" fill="#000"/>
  <polygon points="291.8,635.6 296.4,643 288.6,647.4" fill="#000"/>
  <text transform="translate(298.2,698.2) rotate(-90)" font-size="16" fill="#333" textLength="17.5" lengthAdjust="spacingAndGlyphs">TV</text>
  <text transform="translate(339,700.2) rotate(-90)" font-size="17" fill="#333" textLength="30.5" lengthAdjust="spacingAndGlyphs">Wall</text>
</g>
<g id="circles">
  <text x="62.7" y="746" font-size="15" font-weight="bold" fill="#333" textLength="35.5" lengthAdjust="spacingAndGlyphs">Open</text>
  <text x="230.9" y="741.8" font-size="15" font-weight="bold" fill="#333" textLength="46.5" lengthAdjust="spacingAndGlyphs">Closed</text>
  <g clip-path="url(#c1)">
    <svg x="168.6" y="740" width="14.4" height="122.4" viewBox="168.6 740 14.4 122.4" overflow="hidden"><rect x="168.6" y="740" width="14.4" height="122.4" fill="#b2b2b4" stroke="#8e8e90" stroke-width="1.6"/><g stroke="#808083" stroke-width="1.2"><line x1="168.6" y1="761.0" x2="183.0" y2="770.0"/><line x1="168.6" y1="778.0" x2="183.0" y2="787.0"/><line x1="168.6" y1="795.0" x2="183.0" y2="804.0"/><line x1="168.6" y1="812.0" x2="183.0" y2="821.0"/><line x1="168.6" y1="829.0" x2="183.0" y2="838.0"/><line x1="168.6" y1="846.0" x2="183.0" y2="855.0"/></g></svg>
    <polygon points="115.6,740 126.8,740 102.8,870.2 92.4,869.4" fill="#3b3b3d"/>
    <polygon points="128.6,740 144.3,740 137.8,778.8 140.6,785 139.2,789.2 134,792.3 127.6,792.3 127.2,804 136.9,805.6 136.9,813 113.5,836.4 110.6,836.4" fill="#1aa7e1"/>
    <path d="M139.2,791.8 V802 H159.4 V740" fill="none" stroke="#000" stroke-width="3"/>
  </g>
  <circle cx="138.7" cy="791" r="10.8" fill="none" stroke="#b4555d" stroke-width="1.2"/>
  <line x1="138.7" y1="802" x2="138.7" y2="909.6" stroke="#a9474f" stroke-width="1"/>
  <circle cx="131.4" cy="819.6" r="68.2" fill="none" stroke="#3a3a3a" stroke-width="1.3"/>
  <text transform="translate(90.2,851.5) rotate(-78)" font-size="19.5" fill="#333" textLength="20" lengthAdjust="spacingAndGlyphs">TV</text>
  <text transform="translate(161.6,864.2) rotate(-90)" font-size="21" fill="#333" textLength="40.2" lengthAdjust="spacingAndGlyphs">Wall</text>

  <g clip-path="url(#c2)">
    <svg x="341.8" y="740" width="14.4" height="122.4" viewBox="341.8 740 14.4 122.4" overflow="hidden"><rect x="341.8" y="740" width="14.4" height="122.4" fill="#b2b2b4" stroke="#8e8e90" stroke-width="1.6"/><g stroke="#808083" stroke-width="1.2"><line x1="341.8" y1="764.0" x2="356.2" y2="773.0"/><line x1="341.8" y1="781.0" x2="356.2" y2="790.0"/><line x1="341.8" y1="798.0" x2="356.2" y2="807.0"/><line x1="341.8" y1="815.0" x2="356.2" y2="824.0"/><line x1="341.8" y1="832.0" x2="356.2" y2="841.0"/><line x1="341.8" y1="849.0" x2="356.2" y2="858.0"/></g></svg>
    <rect x="289.5" y="740" width="9.3" height="140.8" fill="#3b3b3d"/>
    <polygon points="300.3,740 316,740 317,780 320.6,787.5 318.2,791.5 313,792.6 311,792.6 311,804 316,804.5 321.5,809 321.2,814 305,841 300.3,841" fill="#1aa7e1"/>
    <path d="M312.7,792.4 V801.8 H333.2 V740" fill="none" stroke="#000" stroke-width="2.8"/>
  </g>
  <circle cx="314" cy="807.5" r="9.5" fill="none" stroke="#1a80b8" stroke-width="1.3"/>
  <circle cx="316.5" cy="804" r="10.5" fill="none" stroke="#b4555d" stroke-width="1.2"/>
  <line x1="315.4" y1="815" x2="315.4" y2="909.6" stroke="#a9474f" stroke-width="1"/>
  <circle cx="299.8" cy="819.4" r="68.2" fill="none" stroke="#3a3a3a" stroke-width="1.3"/>
  <rect x="236.5" y="809.6" width="44.2" height="19.2" fill="#fff" stroke="#8a8a8a" stroke-width="1"/>
  <text x="239.2" y="824.5" font-size="16.5" fill="#222" textLength="37" lengthAdjust="spacingAndGlyphs">Click</text>
  <g transform="translate(264,774) scale(1.3) translate(-281.8,-628.6)">
    <path d="M281.8,628.6 C280.5,638 283.5,645 291,646.5 L291.8,640.8 C287.5,640 285.6,636 285.4,629.8 Z" fill="#000"/>
    <polygon points="291.8,635.6 296.4,643 288.6,647.4" fill="#000"/>
  </g>
  <text transform="translate(283.6,861) rotate(-90)" font-size="19.5" fill="#333" textLength="22" lengthAdjust="spacingAndGlyphs">TV</text>
  <text transform="translate(335.6,864.2) rotate(-90)" font-size="21" fill="#333" textLength="40.5" lengthAdjust="spacingAndGlyphs">Wall</text>

  <g fill="#333" font-size="17.4">
    <text x="55.6" y="932" textLength="148" lengthAdjust="spacingAndGlyphs">Angled latch locks</text>
    <text x="89" y="950.2" textLength="84.6" lengthAdjust="spacingAndGlyphs">to position</text>
    <text x="235" y="932" textLength="129.6" lengthAdjust="spacingAndGlyphs">Horizontal latch</text>
    <text x="264.2" y="950" textLength="71" lengthAdjust="spacingAndGlyphs">prevents</text>
    <text x="237" y="967.8" textLength="125.5" lengthAdjust="spacingAndGlyphs">disengagement</text>
  </g>
</g>
<g id="iso">
  <!-- TV -->
  <polygon points="459.75,527.25 645,420.75 655.75,426 470,531.5 470,709.5 459.75,704.5" fill="#38383a"/>
  <polygon points="470,531.5 655.75,426 653.5,599.5 470,709.5" fill="#bfc0c2"/>
  <g stroke="#48484b" stroke-width="1.3"><line x1="477.8" y1="560.80" x2="508.4" y2="545.20"/><line x1="477.8" y1="564.48" x2="508.4" y2="548.88"/><line x1="477.8" y1="568.16" x2="508.4" y2="552.56"/><line x1="477.8" y1="571.85" x2="508.4" y2="556.25"/><line x1="477.8" y1="575.53" x2="508.4" y2="559.93"/><line x1="477.8" y1="579.21" x2="508.4" y2="563.61"/><line x1="477.8" y1="582.89" x2="508.4" y2="567.29"/><line x1="477.8" y1="586.57" x2="508.4" y2="570.97"/><line x1="477.8" y1="590.25" x2="508.4" y2="574.65"/><line x1="477.8" y1="593.94" x2="508.4" y2="578.34"/><line x1="477.8" y1="597.62" x2="508.4" y2="582.02"/><line x1="477.8" y1="601.30" x2="508.4" y2="585.70"/><line x1="477.8" y1="604.98" x2="508.4" y2="589.38"/><line x1="477.8" y1="608.66" x2="508.4" y2="593.06"/><line x1="477.8" y1="612.35" x2="508.4" y2="596.75"/><line x1="477.8" y1="616.03" x2="508.4" y2="600.43"/><line x1="477.8" y1="619.71" x2="508.4" y2="604.11"/><line x1="477.8" y1="623.39" x2="508.4" y2="607.79"/><line x1="477.8" y1="627.07" x2="508.4" y2="611.47"/><line x1="477.8" y1="630.75" x2="508.4" y2="615.15"/><line x1="477.8" y1="634.44" x2="508.4" y2="618.84"/><line x1="477.8" y1="638.12" x2="508.4" y2="622.52"/><line x1="477.8" y1="641.80" x2="508.4" y2="626.20"/></g>
  <g stroke="#48484b" stroke-width="1.3"><line x1="616.6" y1="480.60" x2="647.2" y2="465.30"/><line x1="616.6" y1="484.27" x2="647.2" y2="468.97"/><line x1="616.6" y1="487.95" x2="647.2" y2="472.65"/><line x1="616.6" y1="491.62" x2="647.2" y2="476.32"/><line x1="616.6" y1="495.29" x2="647.2" y2="479.99"/><line x1="616.6" y1="498.96" x2="647.2" y2="483.66"/><line x1="616.6" y1="502.64" x2="647.2" y2="487.34"/><line x1="616.6" y1="506.31" x2="647.2" y2="491.01"/><line x1="616.6" y1="509.98" x2="647.2" y2="494.68"/><line x1="616.6" y1="513.65" x2="647.2" y2="498.35"/><line x1="616.6" y1="517.33" x2="647.2" y2="502.03"/><line x1="616.6" y1="521.00" x2="647.2" y2="505.70"/><line x1="616.6" y1="524.67" x2="647.2" y2="509.37"/><line x1="616.6" y1="528.35" x2="647.2" y2="513.05"/><line x1="616.6" y1="532.02" x2="647.2" y2="516.72"/><line x1="616.6" y1="535.69" x2="647.2" y2="520.39"/><line x1="616.6" y1="539.36" x2="647.2" y2="524.06"/><line x1="616.6" y1="543.04" x2="647.2" y2="527.74"/><line x1="616.6" y1="546.71" x2="647.2" y2="531.41"/><line x1="616.6" y1="550.38" x2="647.2" y2="535.08"/><line x1="616.6" y1="554.05" x2="647.2" y2="538.75"/><line x1="616.6" y1="557.73" x2="647.2" y2="542.43"/><line x1="616.6" y1="561.40" x2="647.2" y2="546.10"/></g>
  <polygon points="526.5,539.8 532.0,539.8 542.0,549.4 542.0,559.0 538.4,560.2 538.4,574.6 537.2,576.0 537.2,609.4 538.8,611.0 538.8,615.0 537.2,617.0 537.2,624.0 541.4,626.2 541.4,631.0 532.4,643.0 525.2,643.0 525.2,541.0" fill="#1482be" stroke="#62c9f0" stroke-width="1"/><polygon points="525.2,541.0 526.5,539.8 532.5,539.8 532.5,643.0 525.2,643.0" fill="#22aee8"/>
  <polygon points="594.0,502.7 599.5,502.7 609.5,512.3 609.5,521.9 605.9,523.1 605.9,537.5 604.8,538.9 604.8,572.3 606.3,573.9 606.3,577.9 604.8,579.9 604.8,586.9 608.9,589.1 608.9,593.9 599.9,605.9 592.8,605.9 592.8,503.9" fill="#1482be" stroke="#62c9f0" stroke-width="1"/><polygon points="592.8,503.9 594.0,502.7 600.0,502.7 600.0,605.9 592.8,605.9" fill="#22aee8"/>
  <text x="479" y="672.8" font-size="16" fill="#333" textLength="18" lengthAdjust="spacingAndGlyphs">TV</text>
  <!-- WALL -->
  <polygon points="711.8,415.5 730,404.5 924.4,514.1 906,526.8" fill="#a9aaac"/>
  <polygon points="906,526.8 924.4,514.1 924.4,699.3 906,708.5" fill="#bebfc1"/>
  <polygon points="711.8,415.5 906,526.8 906,708.5 711.8,596.8" fill="#d1d2d4"/>
  <!-- frame -->
  <polygon points="750.3,495 759.6,500 759.6,564.7 750.3,559.5" fill="#76777a"/>
  <line x1="759.6" y1="500" x2="759.6" y2="556" stroke="#111" stroke-width="1.6"/>
  <polygon points="740.4,554 839.6,609.2 839.6,618 740.4,564.4" fill="#838487"/>
  <polygon points="759.6,556.4 842.8,602.8 839.6,609.2 759.6,564.7" fill="#4e4f52"/><path d="M759.6,556.4 L842.8,602.8" stroke="#222" stroke-width="1"/>
  <polygon points="839.1,541 850.2,545.2 850.2,616.1 839.1,618.2" fill="#737477"/>
  <polygon points="839.1,546.8 842.8,549 842.8,603 839.1,605" fill="#8a8b8e"/>
  <path d="M839.1,546.8 V541 L850.2,545.2 V616.1 L839.1,618.2 V612" fill="none" stroke="#111" stroke-width="1.8"/>
  <polygon points="740.1,480.7 839.1,536.3 839.1,546.8 740.1,492.4" fill="#858689"/>
  <path d="M740.1,492.4 V480.7 L839.1,536.3 V546.8" fill="none" stroke="#1a1a1a" stroke-width="1.5"/>
  <g stroke="#b0505a" stroke-width="1.1" fill="none">
    <path d="M831.3,538.9 H859.1 V722.5"/>
    <path d="M831.3,610.3 H859.1"/>
  </g>
  <rect x="830" y="722.5" width="58.5" height="48.5" fill="#fff" stroke="#7e464d" stroke-width="1"/>
  <g fill="#333" font-size="14" text-anchor="middle">
    <text x="859.2" y="737.8">2</text>
  </g>
  <g fill="#333" font-size="13.8">
    <text x="834.5" y="751" textLength="49.5" lengthAdjust="spacingAndGlyphs">hanging</text>
    <text x="840" y="764.5" textLength="38.5" lengthAdjust="spacingAndGlyphs">points</text>
  </g>
  <text x="866.9" y="672.8" font-size="16.5" fill="#333" textLength="32" lengthAdjust="spacingAndGlyphs">Wall</text>
  <!-- arrow -->
  <path d="M650,530 C665,532 690,531 708,525.5 L697,522.5 L737,521 L735.5,532 C725,529 715,531 695,534 C675,536 660,534 650,530 Z" fill="#000"/>
</g>

<!-- BULLETS -->
<g fill="#3a3a3a" font-size="18.4">
  <circle cx="464.6" cy="756" r="2.3"/>
  <circle cx="464.6" cy="857" r="2.3"/>
  <circle cx="464.6" cy="934" r="2.3"/>
  <text x="477.4" y="762" textLength="196" lengthAdjust="spacingAndGlyphs">Automatically prevents</text>
  <text x="477.4" y="785.6" textLength="312.2" lengthAdjust="spacingAndGlyphs">disengagement of the screen, unlike</text>
  <text x="477.4" y="809" textLength="293.7" lengthAdjust="spacingAndGlyphs">a screw locking mechanism which</text>
  <text x="477.4" y="832.4" textLength="224.1" lengthAdjust="spacingAndGlyphs">normally is not performed</text>
  <text x="476" y="863" textLength="290.3" lengthAdjust="spacingAndGlyphs">No wires or moving parts that can</text>
  <text x="478" y="886.4" textLength="208.4" lengthAdjust="spacingAndGlyphs">fail or break as in spring</text>
  <text x="478" y="910" textLength="165.9" lengthAdjust="spacingAndGlyphs">locking mechanism</text>
  <text x="475.6" y="940" textLength="294.1" lengthAdjust="spacingAndGlyphs">2 hanging points compared to only</text>
  <text x="478.6" y="963" textLength="204.2" lengthAdjust="spacingAndGlyphs">1 in most other systems</text>
</g>
</svg>
</body></html>
